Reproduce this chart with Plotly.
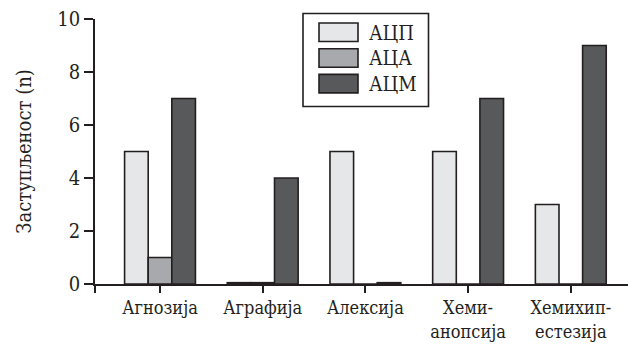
import plotly.graph_objects as go

categories = ["Агнозија", "Аграфија", "Алексија", "Хеми-<br>анопсија", "Хемихип-<br>естезија"]
series_names = ["АЦП", "АЦА", "АЦМ"]
acp = [5, 0.05, 5, 5, 3]
aca = [1, 0.05, 0, 0, 0]
acm = [7, 4, 0.05, 7, 9]
series_values = [acp, aca, acm]
colors = ["#e6e7e8", "#a7a9ac", "#58595b"]
y_ticks = [0, 2, 4, 6, 8, 10]

W, H = 628, 349
L, R, T, B = 95, 0, 19, 65
INK = "#231f20"
FONT = "DejaVu Serif Condensed, DejaVu Serif, serif"

def px_x(px):
    return (px - L) / (W - L - R)

def px_y(py):
    return (H - B - py) / (H - T - B)

xs = list(range(len(categories)))
fig = go.Figure()
for name, vals, col in zip(series_names, series_values, colors):
    fig.add_trace(go.Bar(x=xs, y=vals, name=name, marker=dict(color=col, line=dict(color=INK, width=1.6)),
                         showlegend=False))

x_lo, x_hi = -0.633, 4.557
fig.update_layout(
    width=W, height=H, margin=dict(l=L, r=R, t=T, b=B),
    paper_bgcolor="white", plot_bgcolor="white",
    barmode="group", bargap=0.31, bargroupgap=0,
    font=dict(family=FONT, color=INK, size=18),
    xaxis=dict(range=[x_lo, x_hi], tickvals=[x_lo] + xs, ticktext=[""] + categories,
               showline=True, linecolor=INK, linewidth=1.6, ticks="outside", ticklen=7,
               tickwidth=1.6, tickcolor=INK, showgrid=False, zeroline=False,
               tickfont=dict(family=FONT, size=18, color=INK)),
    yaxis=dict(range=[0, 10], tickvals=y_ticks, showline=True, linecolor=INK, linewidth=1.6,
               ticks="outside", ticklen=9, tickwidth=1.6, tickcolor=INK, showgrid=False,
               zeroline=False, tickfont=dict(family=FONT, size=20, color=INK),
               title=dict(text="Заступљеност (n)", font=dict(family=FONT, size=20, color=INK), standoff=20)),
)

fig.add_shape(type="rect", xref="paper", yref="paper", x0=px_x(303), x1=px_x(428.5), y0=px_y(106.5), y1=px_y(13.5),
              line=dict(color=INK, width=1.6), fillcolor="white", layer="above")
for i, (name, col) in enumerate(zip(series_names, colors)):
    top = 23 + i * 25.7
    fig.add_shape(type="rect", xref="paper", yref="paper", x0=px_x(319), x1=px_x(358), y0=px_y(top + 18.5), y1=px_y(top),
                  line=dict(color=INK, width=1.6), fillcolor=col, layer="above")
    fig.add_annotation(xref="paper", yref="paper", x=px_x(367), y=px_y(top + 9.5), text=name, showarrow=False,
                       xanchor="left", yanchor="middle", font=dict(family=FONT, size=20, color=INK))

fig.write_html("out.html")
